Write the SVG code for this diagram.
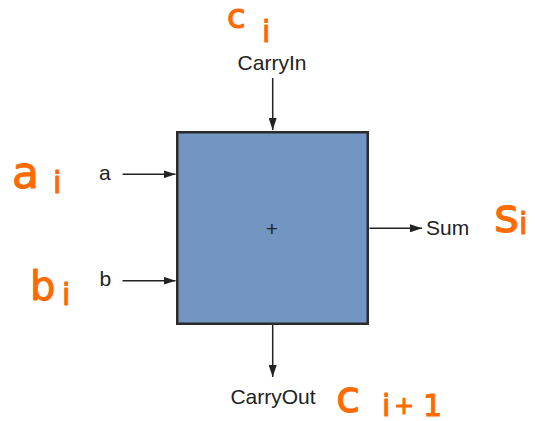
<svg xmlns="http://www.w3.org/2000/svg" width="535" height="421" viewBox="0 0 535 421">
<defs>
<marker id="arr" markerWidth="12" markerHeight="8" refX="12" refY="4" orient="auto" markerUnits="userSpaceOnUse">
<path d="M0,0 L12,4 L0,8 Z" fill="#222"/>
</marker>
<style>
.lbl{font-family:"Liberation Sans",Arial,sans-serif;font-size:21px;fill:#222}
.hw{font-family:"DejaVu Sans",sans-serif;fill:#FF6A00;stroke:#FF6A00;stroke-width:1;stroke-linejoin:round}
.wire{stroke:#222;stroke-width:1.5;fill:none;marker-end:url(#arr)}
</style>
</defs>
<rect width="535" height="421" fill="#fff"/>
<g id="adder">
<rect x="177.25" y="132.25" width="190.5" height="191.5" fill="#7395C2" stroke="#2b2b2b" stroke-width="2.5"/>
<text class="lbl" x="272" y="236" text-anchor="middle">+</text>
</g>
<g id="connectors">
<line class="wire" x1="272.7" y1="78" x2="272.7" y2="130"/>
<line class="wire" x1="122.5" y1="174.3" x2="175.5" y2="174.3"/>
<line class="wire" x1="122.5" y1="280.7" x2="175.5" y2="280.7"/>
<line class="wire" x1="369.5" y1="228.3" x2="422" y2="228.3"/>
<line class="wire" x1="272.7" y1="325" x2="272.7" y2="377"/>
</g>
<g id="carryin"><text class="lbl" x="272" y="70" text-anchor="middle">CarryIn</text></g>
<g id="a"><text class="lbl" x="99" y="180">a</text></g>
<g id="b"><text class="lbl" x="99.5" y="286">b</text></g>
<g id="sum"><text class="lbl" x="426" y="235">Sum</text></g>
<g id="carryout"><text class="lbl" x="273" y="404" text-anchor="middle">CarryOut</text></g>
<g id="annotations">
<text class="hw" x="227" y="28" style="font-size:34px">c<tspan x="262" y="42" style="font-size:30px">i</tspan></text>
<text class="hw" x="12" y="188" style="font-size:44px">a<tspan x="53" y="193" style="font-size:30px">i</tspan></text>
<text class="hw" x="30" y="300" style="font-size:40px">b<tspan x="62" y="305" style="font-size:30px">i</tspan></text>
<text class="hw" x="494" y="232" style="font-size:48px">s<tspan x="519" y="234" style="font-size:30px">i</tspan></text>
<text class="hw" x="336" y="412" style="font-size:44px">c<tspan x="382" y="416" style="font-size:30px">i</tspan><tspan x="394" y="414" style="font-size:24px">+</tspan><tspan x="423" y="416" style="font-size:30px">1</tspan></text>
</g>
</svg>
